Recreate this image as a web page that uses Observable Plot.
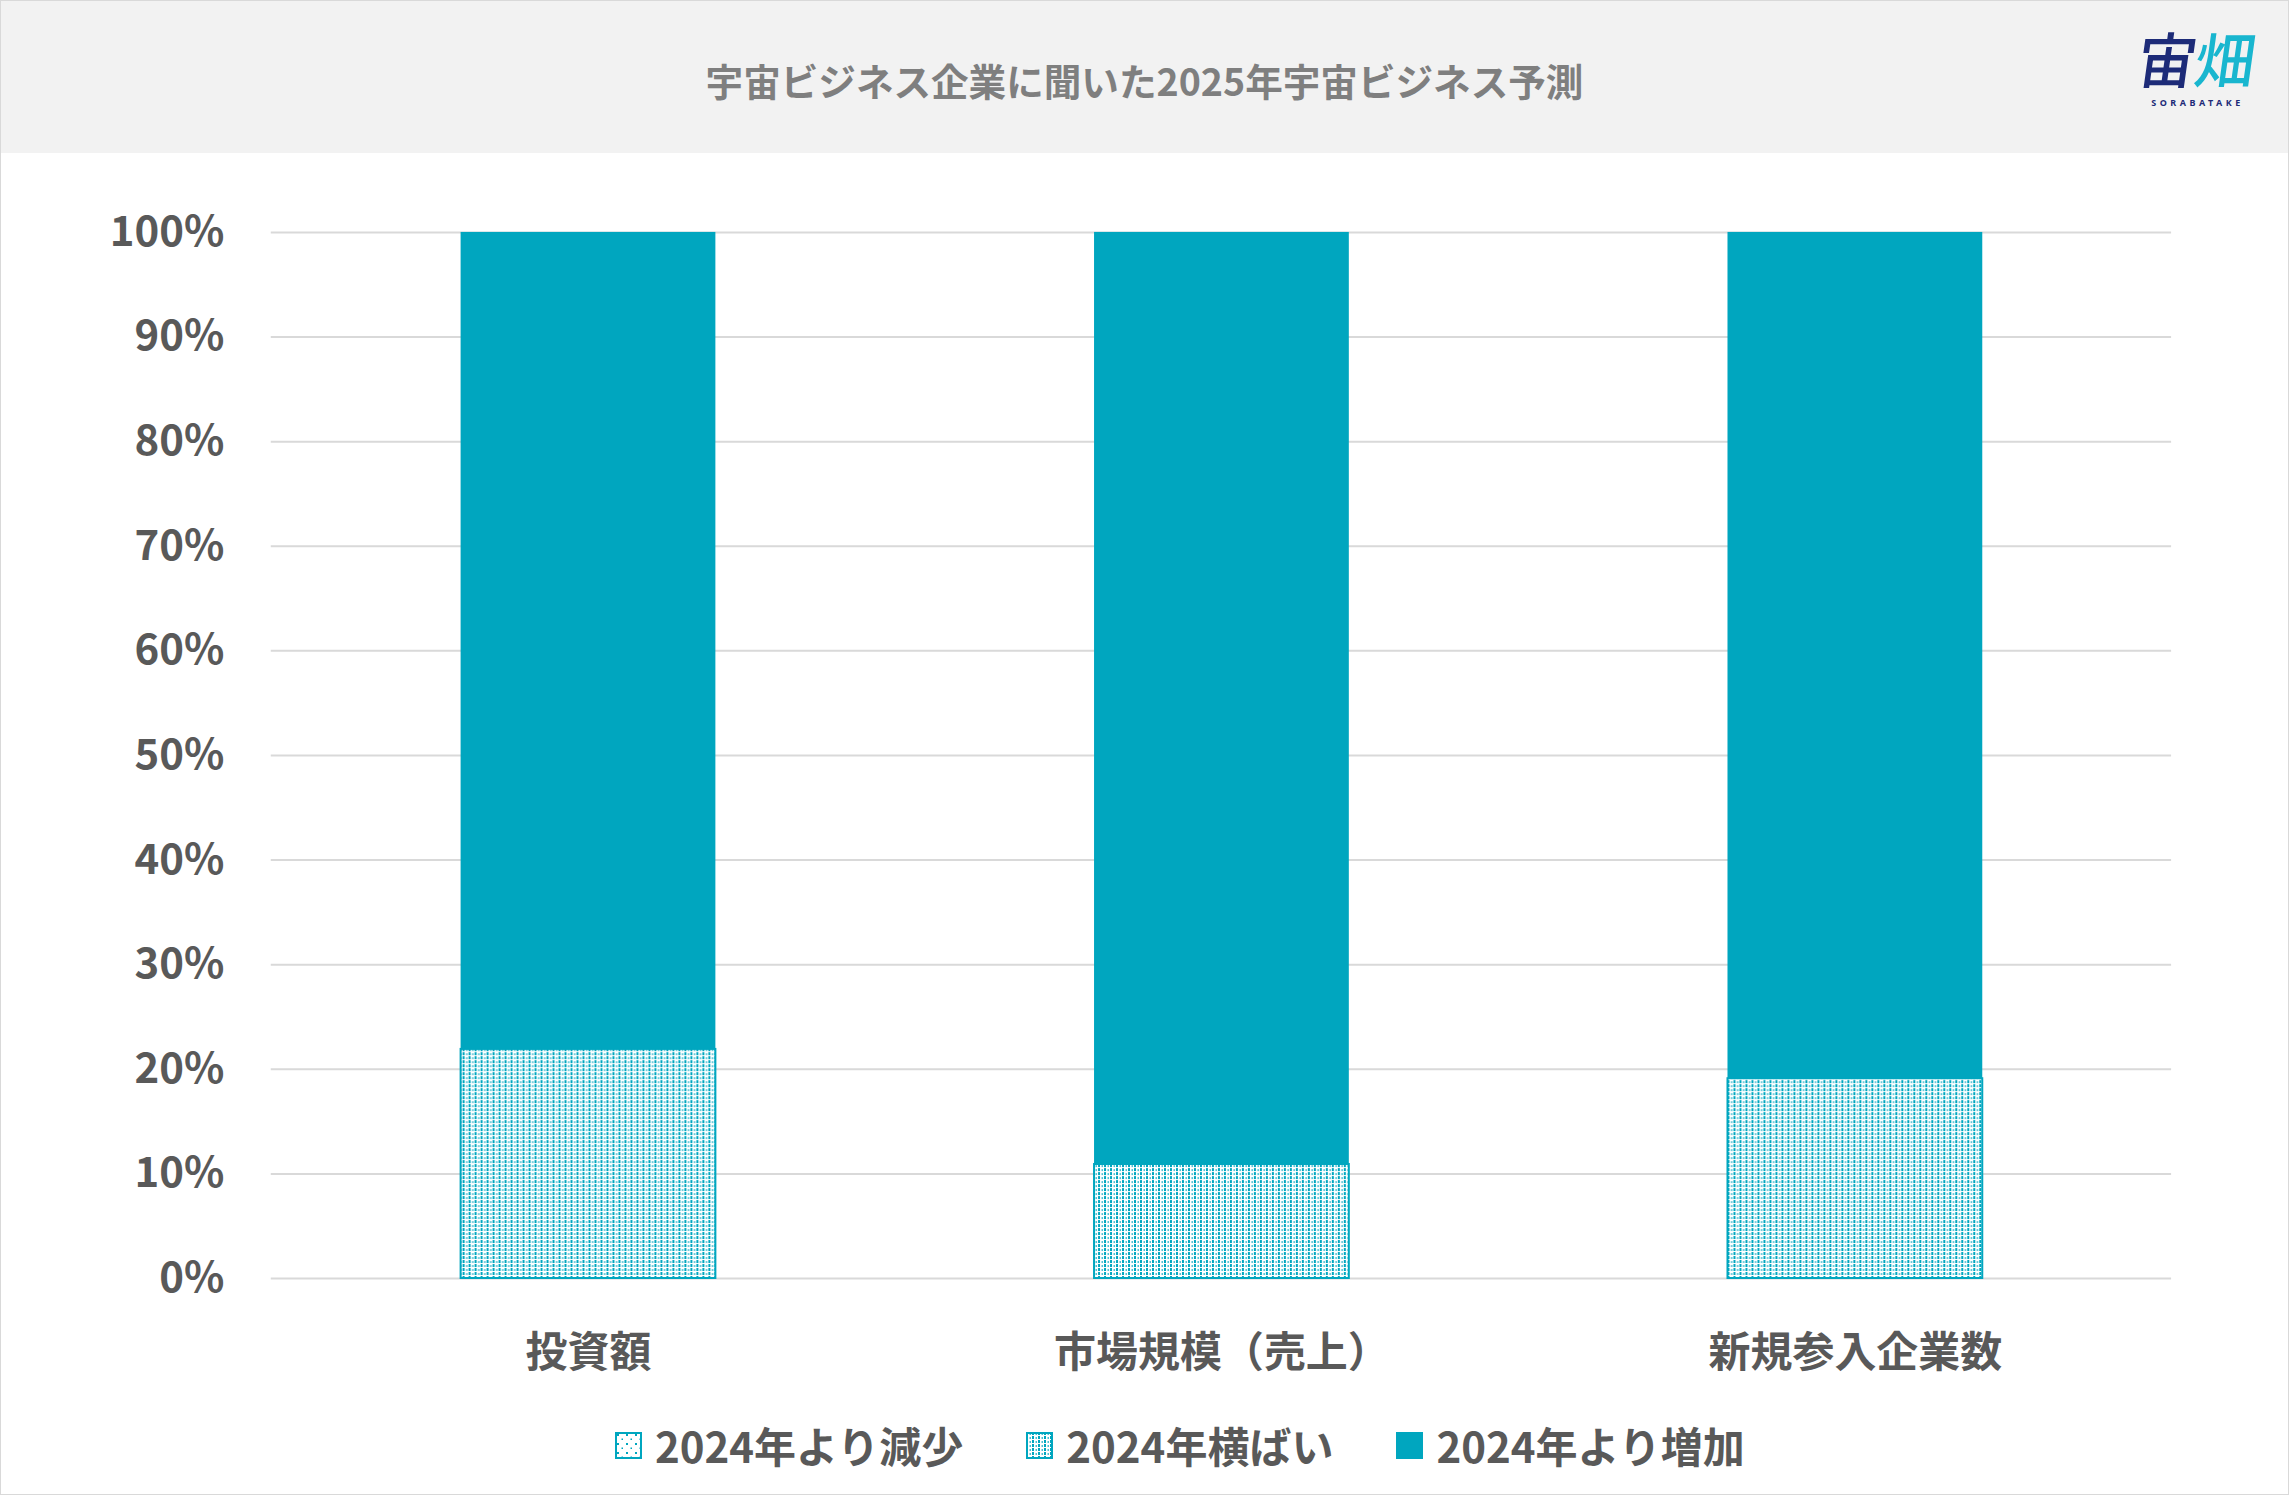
<!DOCTYPE html>
<html>
<head>
<meta charset="utf-8">
<script src="https://cdn.jsdelivr.net/npm/d3@7"></script>
<script src="https://cdn.jsdelivr.net/npm/@observablehq/plot@0.6"></script>
<style>
html,body{margin:0;padding:0;background:#fff;}
#page{position:relative;width:2287px;height:1493px;border:1px solid #d9d9d9;overflow:hidden;font-family:"Noto Sans CJK JP","Noto Sans",sans-serif;background:#fff;}
#header{position:absolute;left:0;top:0;width:100%;height:152px;background:#f2f2f2;}
#title{position:absolute;left:0;right:0;top:60px;text-align:center;font-size:37.6px;line-height:1;font-weight:700;color:#7f7f7f;}
#logo{position:absolute;left:2122px;top:26px;width:146px;text-align:center;color:#1d2b78;}
#logo .main{font-size:60px;line-height:1;font-weight:500;display:inline-block;transform:skewX(-8deg);letter-spacing:-2px;}
#logo .main .c{color:#19b6cf;}
#logo .sub{font-family:"Noto Sans",sans-serif;font-size:9px;font-weight:700;letter-spacing:3.5px;line-height:1;margin-top:10px;padding-left:3px;}
#chart{position:absolute;left:0;top:152px;}
#legend{position:absolute;left:614px;top:1418px;height:52px;display:flex;align-items:center;font-size:42px;font-weight:700;color:#595959;line-height:1;}
#legend .item{display:flex;align-items:center;margin-right:63px;}
#legend .item:last-child{margin-right:0;}
#legend svg{display:block;margin-right:13px;}
</style>
</head>
<body>
<svg width="0" height="0" style="position:absolute">
  <defs>
    <pattern id="patFlat" width="6" height="4" patternUnits="userSpaceOnUse">
      <rect width="6" height="4" fill="#ffffff"/>
      <rect x="0" y="0" width="2" height="3" fill="#00a6bf"/>
      <rect x="3.5" y="1" width="1.5" height="2" fill="#00a6bf" opacity="0.7"/>
    </pattern>
    <pattern id="patDec" width="9" height="9" patternUnits="userSpaceOnUse">
      <rect width="9" height="9" fill="#ffffff"/>
      <rect x="2" y="2" width="2" height="2" fill="#00a6bf"/>
      <rect x="6.5" y="6.5" width="1.5" height="1.5" fill="#00a6bf"/>
    </pattern>
  </defs>
</svg>
<div id="page">
  <div id="header">
    <div id="title">宇宙ビジネス企業に聞いた2025年宇宙ビジネス予測</div>
    <div id="logo"><div class="main">宙<span class="c">畑</span></div><div class="sub">SORABATAKE</div></div>
  </div>
  <div id="chart"></div>
  <div id="legend"></div>
</div>
<script>
// ---- data ----
const categories = ["投資額", "市場規模（売上）", "新規参入企業数"];
const seriesNames = ["2024年より減少", "2024年横ばい", "2024年より増加"];
const decreaseValues = [0, 0, 0];
const flatValues = [21.9, 10.9, 19.1];
const increaseValues = [78.1, 89.1, 80.9];
const yTicks = [0, 10, 20, 30, 40, 50, 60, 70, 80, 90, 100];

// ---- styles ----
const teal = "#00a6bf";
const fills = ["url(#patDec)", "url(#patFlat)", teal];

// ---- build stacked rows ----
const valueSets = [decreaseValues, flatValues, increaseValues];
const rows = [];
categories.forEach((c, i) => {
  let acc = 0;
  seriesNames.forEach((s, j) => {
    const v = valueSets[j][i];
    rows.push({category: c, series: s, value: v, y1: acc, y2: acc + v});
    acc += v;
  });
});

const chart = Plot.plot({
  width: 2289,
  height: 1247,
  marginLeft: 270,
  marginRight: 117,
  marginTop: 79,
  marginBottom: 121,
  style: {fontFamily: '"Noto Sans CJK JP","Noto Sans",sans-serif', background: "transparent", color: "#595959", overflow: "visible"},
  x: {domain: categories, paddingInner: 0.598, paddingOuter: 0.299, axis: null, label: null},
  y: {domain: [0, 100], axis: null, label: null},
  color: {type: "ordinal", domain: seriesNames, range: fills},
  marks: [
    Plot.gridY(yTicks, {stroke: "#d9d9d9", strokeOpacity: 1, strokeWidth: 2}),
    Plot.barY(rows.filter(d => d.value > 0), {x: "category", y1: "y1", y2: "y2", fill: "series"}),
    Plot.barY(rows.filter(d => d.value > 0 && d.series !== seriesNames[2]), {x: "category", y1: "y1", y2: "y2", fill: "none", stroke: teal, strokeWidth: 2}),
    Plot.axisY(yTicks, {tickSize: 0, tickPadding: 47, tickFormat: d => d + "%", fontSize: 42, fontWeight: 700, color: "#595959"}),
    Plot.axisX({tickSize: 0, tickPadding: 59, fontSize: 42, fontWeight: 700, color: "#595959"})
  ]
});
document.getElementById("chart").appendChild(chart);

// ---- legend ----
const legend = d3.select("#legend");
seriesNames.forEach((s, j) => {
  const item = legend.append("div").attr("class", "item");
  const sw = item.append("svg").attr("width", 27).attr("height", 27);
  if (j < 2) {
    sw.append("rect").attr("x", 1).attr("y", 1).attr("width", 25).attr("height", 25)
      .attr("fill", fills[j]).attr("stroke", teal).attr("stroke-width", 2);
  } else {
    sw.append("rect").attr("width", 27).attr("height", 27).attr("fill", teal);
  }
  item.append("span").text(s);
});
</script>
</body>
</html>
